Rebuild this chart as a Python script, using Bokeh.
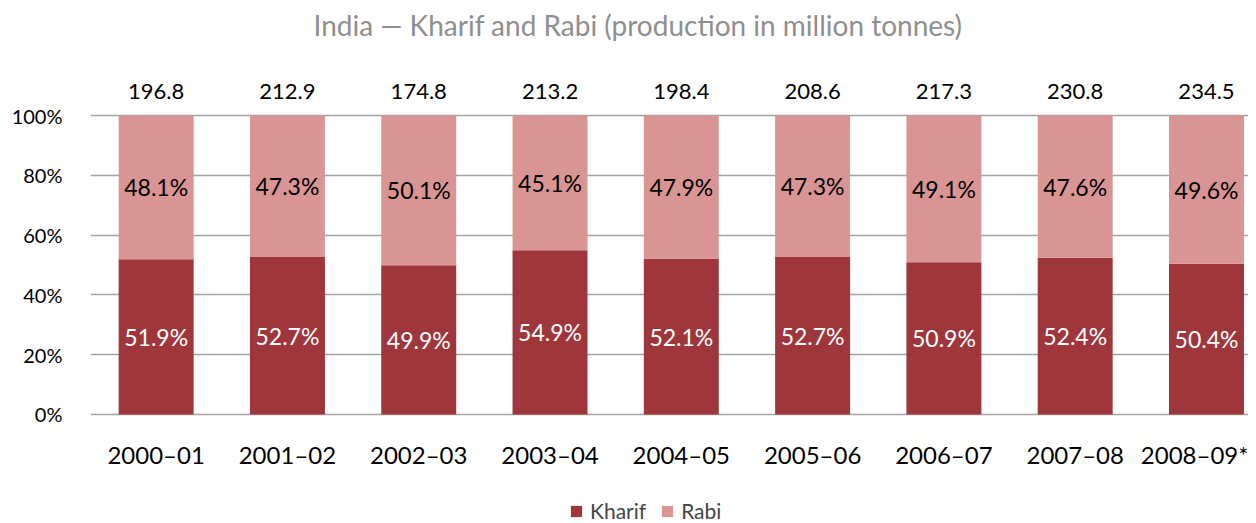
from bokeh.plotting import figure
from bokeh.layouts import column
from bokeh.models import (ColumnDataSource, Range1d, FixedTicker, PrintfTickFormatter,
                          Legend, LegendItem, Title)
from bokeh.core.properties import value
from bokeh.embed import file_html
from bokeh.resources import INLINE

categories = ["2000–01", "2001–02", "2002–03", "2003–04", "2004–05",
              "2005–06", "2006–07", "2007–08", "2008–09*"]
totals = [196.8, 212.9, 174.8, 213.2, 198.4, 208.6, 217.3, 230.8, 234.5]
kharif = [51.9, 52.7, 49.9, 54.9, 52.1, 52.7, 50.9, 52.4, 50.4]
rabi = [48.1, 47.3, 50.1, 45.1, 47.9, 47.3, 49.1, 47.6, 49.6]

FONT = "Lato"
KHARIF_C = "#9E363B"
RABI_C = "#D99594"

xs = [i + 0.5 for i in range(len(categories))]
top_all = [k + r for k, r in zip(kharif, rabi)]
src = ColumnDataSource(dict(
    x=xs,
    kharif=kharif,
    rabi=rabi,
    top_all=top_all,
    k_mid=[k / 2 for k in kharif],
    r_mid=[k + r / 2 for k, r in zip(kharif, rabi)],
    k_lab=[f"{v:.1f}%" for v in kharif],
    r_lab=[f"{v:.1f}%" for v in rabi],
    t_lab=[f"{v:.1f}" for v in totals],
))

# title strip
tf = figure(width=1248, height=50, output_backend="svg", toolbar_location=None,
            x_range=Range1d(0, 1), y_range=Range1d(0, 1),
            min_border_left=90, min_border_right=0, min_border_top=45,
            min_border_bottom=0, x_axis_location=None, y_axis_location=None)
tf.outline_line_color = None
tf.grid.grid_line_color = None
tf.add_layout(Title(text="India — Kharif and Rabi (production in million tonnes)",
                    align="left", text_font=FONT, text_font_size="28px",
                    text_color="#8F8F8F", text_font_style="normal",
                    offset=223, standoff=10), "above")

p = figure(width=1248, height=435, output_backend="svg", toolbar_location=None,
           x_range=Range1d(0, 8.82), y_range=Range1d(-0.67, 118.4),
           min_border_left=90, min_border_right=0, min_border_top=10,
           min_border_bottom=69)
p.outline_line_color = None
p.background_fill_color = "white"
p.border_fill_color = "white"

rk = p.vbar(x="x", bottom=0, top="kharif", width=0.571, source=src,
            fill_color=KHARIF_C, line_color=None)
rr = p.vbar(x="x", bottom="kharif", top="top_all", width=0.571, source=src,
            fill_color=RABI_C, line_color=None)

p.text(x="x", y="k_mid", text="k_lab", source=src, text_align="center",
       text_baseline="middle", text_color="white", text_font=value(FONT),
       text_font_size="23px")
p.text(x="x", y="r_mid", text="r_lab", source=src, text_align="center",
       text_baseline="middle", text_color="black", text_font=value(FONT),
       text_font_size="23px")
p.text(x="x", y="top_all", text="t_lab", source=src, text_align="center",
       text_baseline="middle", text_color="black", text_font=value(FONT),
       text_font_size="22px", y_offset=-24)

# axes
p.xaxis.ticker = FixedTicker(ticks=xs)
p.xaxis.major_label_overrides = {x: c for x, c in zip(xs, categories)}
p.xaxis.axis_line_color = None
p.xaxis.major_tick_line_color = None
p.xaxis.minor_tick_line_color = None
p.xaxis.major_label_text_font = FONT
p.xaxis.major_label_text_font_size = "24px"
p.xaxis.major_label_text_color = "black"
p.xaxis.major_label_standoff = 17

p.yaxis.ticker = FixedTicker(ticks=[0, 20, 40, 60, 80, 100])
p.yaxis.formatter = PrintfTickFormatter(format="%d%%")
p.yaxis.axis_line_color = None
p.yaxis.major_tick_line_color = None
p.yaxis.minor_tick_line_color = None
p.yaxis.major_label_text_font = FONT
p.yaxis.major_label_text_font_size = "20px"
p.yaxis.major_label_text_color = "black"
p.yaxis.major_label_standoff = 22

p.xgrid.grid_line_color = None
p.ygrid.ticker = FixedTicker(ticks=[0, 20, 40, 60, 80, 100])
p.ygrid.grid_line_color = "#A3A3A3"
p.ygrid.grid_line_width = 1.5

# legend strip
lg = figure(width=1248, height=38, output_backend="svg", toolbar_location=None,
            x_range=Range1d(100, 101), y_range=Range1d(100, 101),
            min_border=0, x_axis_location=None, y_axis_location=None)
lg.outline_line_color = None
lg.grid.grid_line_color = None
lk = lg.vbar(x="x", bottom=0, top="kharif", width=0.571, source=src,
             fill_color=KHARIF_C, line_color=None)
lr = lg.vbar(x="x", bottom="kharif", top="top_all", width=0.571, source=src,
             fill_color=RABI_C, line_color=None)
legend = Legend(items=[LegendItem(label="Kharif", renderers=[lk]),
                       LegendItem(label="Rabi", renderers=[lr])],
                orientation="horizontal", location=(479, 0),
                label_text_font=FONT, label_text_font_size="21px",
                glyph_width=14, glyph_height=14, label_standoff=7,
                spacing=14, padding=0, margin=0,
                border_line_color=None, background_fill_alpha=0)
lg.add_layout(legend, "center")

open("out.html", "w").write(file_html(column(tf, p, lg, spacing=0), INLINE))
